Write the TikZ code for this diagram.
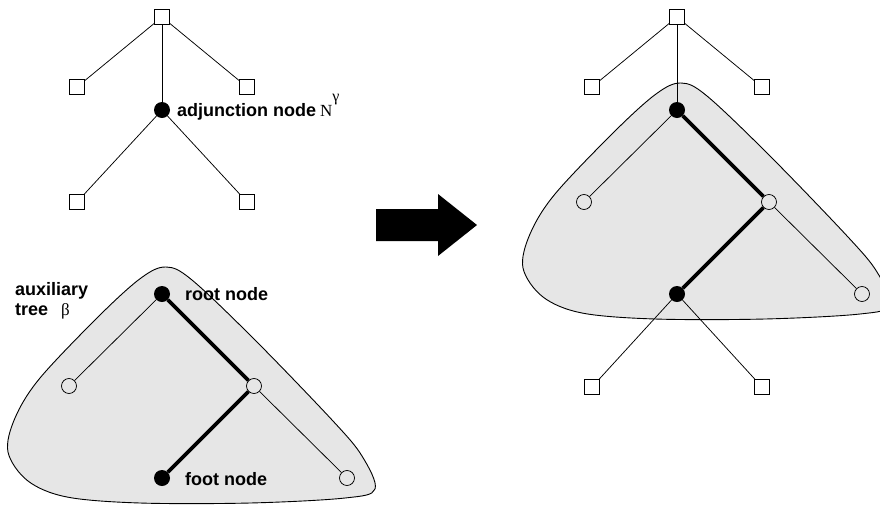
\documentclass[tikz,border=0pt]{standalone}
\usepackage{fontspec}
\setmainfont{Liberation Sans}
\newfontfamily\seriffont{Liberation Serif}
\definecolor{blobgray}{RGB}{230,230,230}
\begin{document}
\begin{tikzpicture}[x=1pt,y=-1pt,
  sq/.style={draw, fill=white, rectangle, minimum size=15pt, inner sep=0pt, line width=0.75pt},
  bdot/.style={circle, fill=black, minimum size=16pt, inner sep=0pt},
  odot/.style={circle, draw, minimum size=15pt, inner sep=0pt, line width=0.75pt},
  thinl/.style={line width=0.75pt},
  thickl/.style={line width=3.8pt},
  lbl/.style={font=\fontsize{18}{20}\selectfont\bfseries, inner sep=0pt, anchor=base west},
  grk/.style={font=\seriffont\fontsize{17}{17}\selectfont, inner sep=0pt, anchor=base west},
  blob/.style={draw, fill=blobgray, line width=0.9pt},
  blobpic/.pic={\path[blob] plot[smooth cycle, tension=0.55] coordinates {
    (166,267) (192,280) (255,340) (333,421) (362,456) (375,489) (345,498)
    (250,503) (140,503) (67,497) (28,481) (8,452) (15,418) (40,378)
    (100,315) (141,278)};}
]
\useasboundingbox (0,0) rectangle (880,504);
\clip (0,0) rectangle (880,504);
\fill[white] (0,0) rectangle (880,504);

% blobs
\pic at (0,0) {blobpic};
\pic at (515,-184) {blobpic};

% ---------- left top tree ----------
\node[sq] (t0) at (162,17) {};
\node[sq] (t1) at (77,87) {};
\node[sq] (t2) at (247,87) {};
\node[bdot] (ta) at (162,110) {};
\node[sq] (t3) at (77,202) {};
\node[sq] (t4) at (247,202) {};
\draw[thinl] (t0) -- (t1);
\draw[thinl] (t0) -- (t2);
\draw[thinl] (t0) -- (ta);
\draw[thinl] (ta) -- (t3);
\draw[thinl] (ta) -- (t4);
\node[lbl] (adj) at (177,116) {adjunction node};
\node[grk] (ng) at (320,116) {N\raisebox{15pt}{\fontsize{16}{16}\selectfont γ}};

% ---------- auxiliary tree ----------
\node[bdot] (br) at (162,294) {};
\node[odot] (bl) at (69,386) {};
\node[odot] (bm) at (254,386) {};
\node[bdot] (bf) at (162,478) {};
\node[odot] (bx) at (347,478) {};
\draw[thinl] (br) -- (bl);
\draw[thickl] (br) -- (bm);
\draw[thickl] (bm) -- (bf);
\draw[thinl] (bm) -- (bx);
\node[lbl] (aux) at (15,295) {auxiliary};
\node[lbl] (tree) at (15,315) {tree};
\node[grk] (beta) at (61,315) {β};
\node[lbl] (rootl) at (185,300) {root node};
\node[lbl] (footl) at (185,485) {foot node};

% ---------- arrow ----------
\fill (376,209) -- (438,209) -- (438,194) -- (477,225) -- (438,256) -- (438,241) -- (376,241) -- cycle;

% ---------- right tree ----------
\node[sq] (r0) at (677,17) {};
\node[sq] (r1) at (592,87) {};
\node[sq] (r2) at (762,87) {};
\node[bdot] (rr) at (677,110) {};
\node[odot] (rl) at (584,202) {};
\node[odot] (rm) at (769,202) {};
\node[bdot] (rf) at (677,294) {};
\node[odot] (rx) at (862,294) {};
\node[sq] (rb1) at (592,387) {};
\node[sq] (rb2) at (762,387) {};
\draw[thinl] (r0) -- (r1);
\draw[thinl] (r0) -- (r2);
\draw[thinl] (r0) -- (rr);
\draw[thinl] (rr) -- (rl);
\draw[thickl] (rr) -- (rm);
\draw[thickl] (rm) -- (rf);
\draw[thinl] (rm) -- (rx);
\draw[thinl] (rf) -- (rb1);
\draw[thinl] (rf) -- (rb2);
\end{tikzpicture}
\end{document}
